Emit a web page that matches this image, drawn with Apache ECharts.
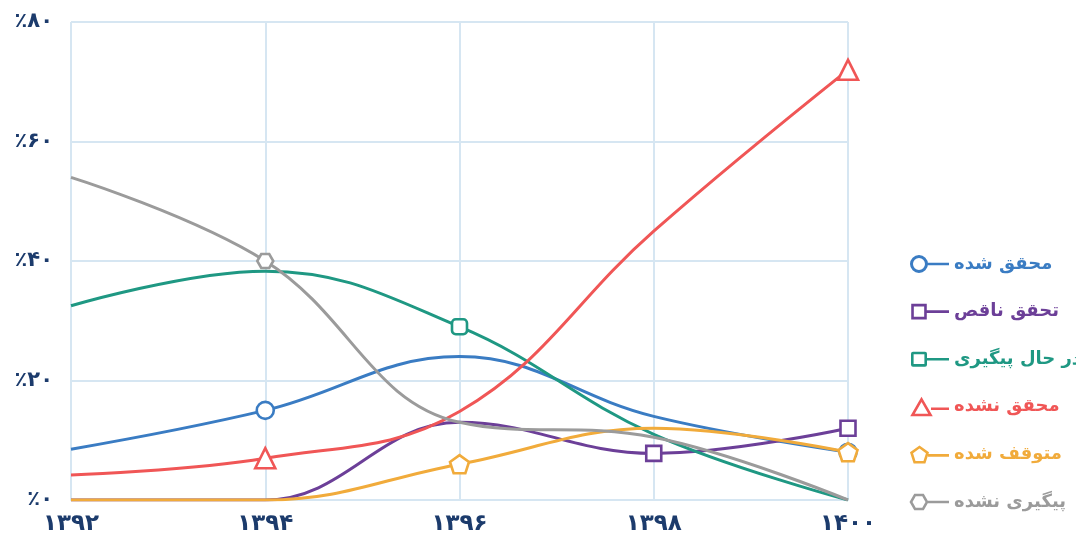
<!DOCTYPE html>
<html>
<head>
<meta charset="utf-8">
<script src="https://cdn.jsdelivr.net/npm/echarts@6/dist/echarts.min.js"></script>
<style>html,body{margin:0;padding:0;background:#fff}#c{width:1076px;height:540px}</style>
</head>
<body>
<div id="c"></div>
<script>
// ---- data ----
const categories = ['۱۳۹۲', '۱۳۹۴', '۱۳۹۶', '۱۳۹۸', '۱۴۰۰'];
const yTickLabels = ['٪۰', '٪۲۰', '٪۴۰', '٪۶۰', '٪۸۰'];
const seriesNames = ['محقق شده', 'تحقق ناقص', 'در حال پیگیری', 'محقق نشده', 'متوقف شده', 'پیگیری نشده'];
const realized    = [8.5, 15, 24, 14, 8];
const partial     = [0, 0, 13, 7.8, 12];
const inProgress  = [32.5, 38.3, 29, 11, 0];
const notRealized = [4.2, 7, 14.8, 45, 72];
const stopped     = [0, 0, 6, 12, 8];
const notFollowed = [54, 40, 13, 10.5, 0];

// ---- styles ----
const colors = ['#3a7cc3', '#6c3f98', '#1f9883', '#f05656', '#f1ab3b', '#9b9b9b'];
const labelColor = '#1c3b6c';
const gridColor = '#d6e6f2';
const markerIdx = [[1, 4], [3, 4], [2], [1, 4], [2, 4], [1]];

function poly(n, rot, R, cx, cy) {
  const pts = [];
  for (let i = 0; i < n; i++) {
    const a = rot + 2 * Math.PI * i / n;
    pts.push([cx + R * Math.cos(a), cy + R * Math.sin(a)]);
  }
  return pts;
}
function ptsPath(pts) {
  return 'M' + pts.map(p => p[0].toFixed(2) + ',' + p[1].toFixed(2)).join(' L') + ' Z ';
}
function ringPoly(n, rot, R, cx, cy, t) {
  const outer = poly(n, rot, R, cx, cy);
  const k = 1 - t / (R * Math.cos(Math.PI / n));
  const inner = outer.map(p => [cx + (p[0] - cx) * k, cy + (p[1] - cy) * k]).reverse();
  return ptsPath(outer) + ptsPath(inner);
}
const pins = 'M0,0 L0.01,0 L0,0.01 Z M40,20 L39.99,20 L40,19.99 Z ';
function bar(x0, y) { return 'M' + x0 + ',' + (y - 1.3) + ' L40,' + (y - 1.3) + ' L40,' + (y + 1.3) + ' L' + x0 + ',' + (y + 1.3) + ' Z '; }
const t = 2.6;
const legendIcons = [
  'path://' + pins + 'M1,10 A9,9 0 1,1 19,10 A9,9 0 1,1 1,10 Z M4,10 A6,6 0 1,0 16,10 A6,6 0 1,0 4,10 Z ' + bar(18, 10),
  'path://' + pins + ringPoly(4, Math.PI / 4, 11, 10, 10, t) + bar(17, 10),
  'path://' + pins + 'M2,2.5 L16,2.5 Q18,2.5 18,4.5 L18,15.5 Q18,17.5 16,17.5 L4,17.5 Q2,17.5 2,15.5 L2,4.5 Q2,2.5 4,2.5 Z M4.6,5.1 L4.6,14.9 L15.4,14.9 L15.4,5.1 Z ' + bar(17, 10),
  'path://' + pins + ringPoly(3, -Math.PI / 2, 13, 12.5, 13, t) + bar(22, 12),
  'path://' + pins + ringPoly(5, -Math.PI / 2, 10, 10.5, 11, t) + bar(19, 11),
  'path://' + pins + ringPoly(6, 0, 9.5, 10, 10, t) + bar(19, 10)
];
const pentagon = 'path://' + ptsPath(poly(5, -Math.PI / 2, 10, 10, 10));
const hexagon = 'path://' + ptsPath(poly(6, 0, 10, 10, 10));
const symbols = ['circle', 'rect', 'roundRect', 'triangle', pentagon, hexagon];
const symbolSizes = [17, 15, 15, 20, 19, 16];

const allValues = [realized, partial, inProgress, notRealized, stopped, notFollowed];

const series = allValues.map((vals, s) => ({
  name: seriesNames[s],
  type: 'line',
  smooth: 0.4,
  symbol: symbols[s],
  symbolSize: symbolSizes[s],
  symbolKeepAspect: true,
  showAllSymbol: true,
  lineStyle: { color: colors[s], width: 3 },
  itemStyle: { color: '#fff', borderColor: colors[s], borderWidth: 2.6 },
  emphasis: { disabled: true },
  data: vals.map((v, i) => markerIdx[s].includes(i) ? v : { value: v, symbol: 'none' })
}));

const chart = echarts.init(document.getElementById('c'));
chart.setOption({
  animation: false,
  textStyle: { fontFamily: 'DejaVu Sans' },
  grid: { left: 71, right: 228, top: 22, bottom: 40, containLabel: false },
  legend: {
    orient: 'vertical',
    left: 904,
    top: 249,
    itemWidth: 40,
    itemHeight: 20,
    itemGap: 27.6,
    selectedMode: false,
    textStyle: { fontSize: 18, fontWeight: 'bold', fontFamily: 'DejaVu Sans' },
    data: seriesNames.map((n, s) => ({
      name: n,
      icon: legendIcons[s],
      itemStyle: { color: colors[s], borderWidth: 0 },
      textStyle: { color: colors[s] }
    }))
  },
  xAxis: {
    type: 'category',
    boundaryGap: false,
    data: categories,
    axisLine: { show: true, lineStyle: { color: gridColor, width: 2 } },
    axisTick: { show: false },
    splitLine: { show: true, lineStyle: { color: gridColor, width: 2 } },
    axisLabel: { color: labelColor, fontSize: 23, fontWeight: 'bold', margin: 13 }
  },
  yAxis: {
    type: 'value',
    min: 0,
    max: 80,
    interval: 20,
    axisLine: { show: false },
    axisTick: { show: false },
    splitLine: { show: true, lineStyle: { color: gridColor, width: 2 } },
    axisLabel: {
      color: labelColor, fontSize: 21, fontWeight: 'bold', margin: 18,
      formatter: v => yTickLabels[Math.round(v / 20)]
    }
  },
  series: series
});
</script>
</body>
</html>
